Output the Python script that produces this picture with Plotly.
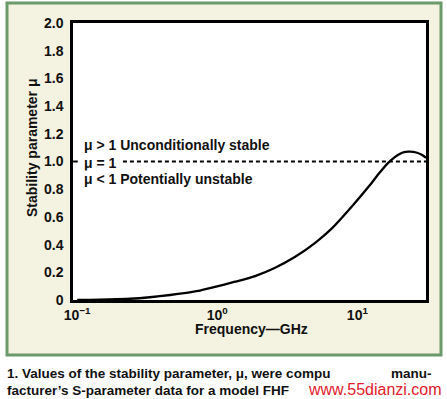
import plotly.graph_objects as go

# Data
freq_ghz = [0.1, 0.123, 0.17, 0.238, 0.33, 0.46, 0.6, 0.753, 0.964, 1.34, 1.86, 2.59,
            3.6, 5.0, 6.58, 9.33, 12.3, 14.3, 16.6, 18.4, 20.2, 21.6, 23.1, 25.0,
            26.7, 28.8, 30.9]
mu_values = [0.0, 0.001, 0.004, 0.009, 0.02, 0.036, 0.052, 0.068, 0.094, 0.132, 0.173,
             0.233, 0.312, 0.413, 0.517, 0.686, 0.83, 0.915, 0.99, 1.03, 1.056, 1.067,
             1.071, 1.07, 1.063, 1.048, 1.027]

x_tick_vals = [0.1, 1, 10]
x_tick_text = ["10<sup>−1</sup>", "10<sup>0</sup>", "10<sup>1</sup>"]
y_tick_vals = [0, 0.2, 0.4, 0.6, 0.8, 1.0, 1.2, 1.4, 1.6, 1.8, 2.0]
y_tick_text = ["0", "0.2", "0.4", "0.6", "0.8", "1.0", "1.2", "1.4", "1.6", "1.8", "2.0"]

mu_threshold = 1.0
dash_start_ghz = 0.212
x_end_ghz = 30.9

W, H = 447, 399
L, R, T, B = 73, 426, 23, 300
pw, ph = R - L, B - T


def px(x):
    return (x - L) / pw


def py(y):
    return (B - y) / ph


FONT = "Liberation Sans"

fig = go.Figure()

fig.add_trace(go.Scatter(
    x=freq_ghz, y=mu_values, mode="lines",
    line=dict(color="black", width=2.3, shape="spline", smoothing=0.6),
    hoverinfo="skip", showlegend=False))

# mu = 1 dashed reference line
fig.add_trace(go.Scatter(
    x=[dash_start_ghz, x_end_ghz], y=[mu_threshold, mu_threshold], mode="lines",
    line=dict(color="black", width=2, dash="4px,3px"),
    hoverinfo="skip", showlegend=False))
fig.add_trace(go.Scatter(
    x=[0.0935, 0.101], y=[mu_threshold, mu_threshold], mode="lines",
    line=dict(color="black", width=2),
    hoverinfo="skip", showlegend=False))

fig.update_layout(
    width=W, height=H,
    margin=dict(l=L, r=W - R, t=T, b=H - B),
    paper_bgcolor="white",
    plot_bgcolor="white",
    showlegend=False,
    xaxis=dict(
        type="log", range=[-1.03, 1.49],
        tickvals=x_tick_vals, ticktext=x_tick_text,
        showgrid=False, zeroline=False, ticks="",
        showline=True, mirror=True, linecolor="black", linewidth=2.5,
        tickfont=dict(family=FONT, size=14, color="#111", weight="bold"),
        ticklabelstandoff=0,
    ),
    yaxis=dict(
        range=[0, 2.0],
        tickvals=y_tick_vals, ticktext=y_tick_text,
        showgrid=False, zeroline=False, ticks="",
        showline=True, mirror=True, linecolor="black", linewidth=2.5,
        tickfont=dict(family=FONT, size=14, color="#111", weight="bold"),
        ticklabelstandoff=4,
    ),
    shapes=[
        dict(type="rect", xref="paper", yref="paper",
             x0=px(7), x1=px(441), y0=py(355), y1=py(3),
             fillcolor="#f4f2e0", line=dict(color="#6b9a6b", width=3), layer="below"),
        dict(type="rect", xref="paper", yref="paper",
             x0=0, x1=1, y0=0, y1=1,
             fillcolor="white", line=dict(width=0), layer="below"),
    ],
)

ann_font = dict(family=FONT, size=14, color="#111")
annotations = [
    dict(text="<b>μ > 1 Unconditionally stable</b>", x=px(83), y=py(145)),
    dict(text="<b>μ = 1</b>", x=px(83), y=py(163)),
    dict(text="<b>μ < 1 Potentially unstable</b>", x=px(83), y=py(179)),
]
for a in annotations:
    fig.add_annotation(xref="paper", yref="paper", xanchor="left", yanchor="middle",
                       showarrow=False, font=ann_font, bgcolor="white", borderpad=0, **a)

fig.add_annotation(xref="paper", yref="paper", x=px(32), y=py(148), textangle=-90,
                   text="<b>Stability parameter μ</b>", showarrow=False,
                   xanchor="center", yanchor="middle",
                   font=dict(family=FONT, size=14, color="#111"))
fig.add_annotation(xref="paper", yref="paper", x=px(252), y=py(328.5),
                   text="<b>Frequency—GHz</b>", showarrow=False,
                   xanchor="center", yanchor="middle",
                   font=dict(family=FONT, size=14, color="#111"))

cap_font = dict(family=FONT, size=13.5, color="#111")
fig.add_annotation(xref="paper", yref="paper", x=px(5), y=py(373), xanchor="left",
                   yanchor="middle", showarrow=False, font=cap_font,
                   text="<b>1. Values of the stability parameter, μ, were compu</b>")
fig.add_annotation(xref="paper", yref="paper", x=px(434), y=py(373), xanchor="right",
                   yanchor="middle", showarrow=False, font=cap_font,
                   text="<b>manu-</b>")
fig.add_annotation(xref="paper", yref="paper", x=px(5), y=py(390), xanchor="left",
                   yanchor="middle", showarrow=False, font=cap_font,
                   text="<b>facturer’s S-parameter data for a model FHF</b>")
fig.add_annotation(xref="paper", yref="paper", x=px(443), y=py(389), xanchor="right",
                   yanchor="middle", showarrow=False, bgcolor="white", borderpad=0,
                   font=dict(family=FONT, size=16, color="#e0202a"),
                   text="www.55dianzi.com")

fig.write_html(
    "out.html",
    config={"displayModeBar": False},
    post_script="document.body.style.margin='0';document.body.style.overflow='hidden';",
)
